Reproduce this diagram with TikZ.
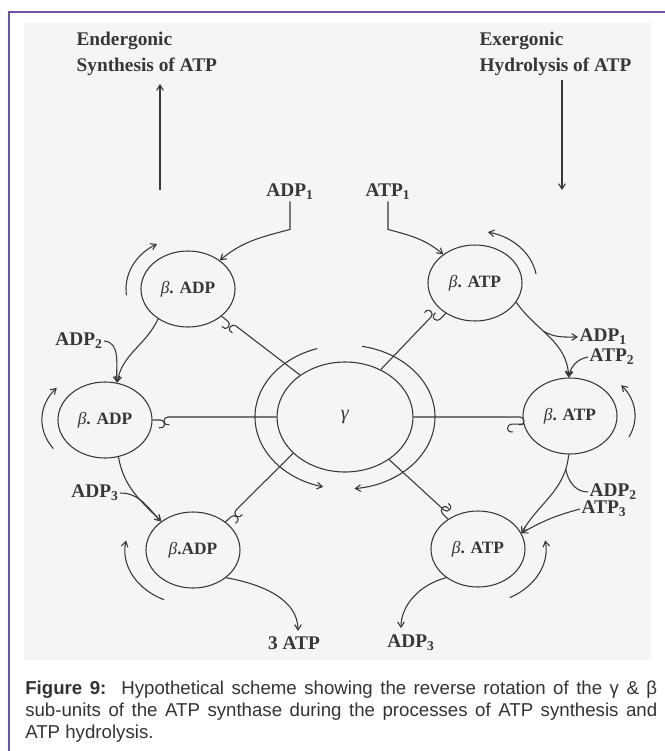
\documentclass[tikz,border=0pt]{standalone}
\usepackage{fontspec}
\setmainfont{Liberation Serif}
\newfontfamily\capfont{Liberation Sans}
\usetikzlibrary{shapes.geometric,arrows.meta}

\definecolor{framepurple}{RGB}{112,84,160}
\definecolor{ink}{RGB}{55,55,55}

\tikzset{
  unit/.style={draw=ink, ellipse, line width=0.8pt, minimum width=70.5pt, minimum height=57pt,
    inner sep=0pt, font=\bfseries\fontsize{13}{15}\selectfont, text=ink},
  lab/.style={font=\bfseries\fontsize{14.5}{15}\selectfont, text=ink, inner sep=1pt},
  link/.style={draw=ink, line width=0.8pt},
  flow/.style={link, -{Straight Barb[length=4pt,width=5pt]}},
}
\newcommand{\bt}{{\mdseries\itshape β}}

\begin{document}
\begin{tikzpicture}[x=0.75pt, y=0.75pt]
\useasboundingbox (0,0) rectangle (665,-751);
% frame and grey panel
\fill[black!4] (24,-23) rectangle (651,-660);
\draw[framepurple, line width=1.5pt] (9,-751) -- (9,-12) -- (665,-12);

% gamma and the six beta units
\node[unit, minimum width=102pt, minimum height=82.5pt, font=\fontsize{15}{16}\selectfont] (gamma) at (345,-417) {\textit{γ}};
\node[unit] (adpA) at (188,-289) {\bt. ADP};
\node[unit] (adpB) at (105,-420) {\bt. ADP};
\node[unit] (adpC) at (193,-550) {\bt.ADP};
\node[unit] (atpA) at (475,-283) {\bt. ATP};
\node[unit] (atpB) at (570,-416) {\bt. ATP};
\node[unit] (atpC) at (478,-549) {\bt. ATP};

% labels
\node[lab, align=left, anchor=north west, font=\bfseries\fontsize{14.5}{19.5}\selectfont] (ender) at (75,-30) {Endergonic\\Synthesis of ATP};
\node[lab, align=left, anchor=north west, font=\bfseries\fontsize{14.5}{19.5}\selectfont] (exer) at (478,-30) {Exergonic\\Hydrolysis of ATP};
\node[lab] (adp1) at (290,-192) {ADP\textsubscript{1}};
\node[lab] (atp1) at (388,-192) {ATP\textsubscript{1}};
\node[lab] (adp2) at (79,-341) {ADP\textsubscript{2}};
\node[lab] (adp3) at (95,-493) {ADP\textsubscript{3}};
\node[lab, anchor=west] (adp1r) at (578,-337) {ADP\textsubscript{1}};
\node[lab, anchor=west] (atp2) at (588,-357) {ATP\textsubscript{2}};
\node[lab, anchor=west] (adp2r) at (588,-492) {ADP\textsubscript{2}};
\node[lab, anchor=west] (atp3) at (580,-509) {ATP\textsubscript{3}};
\node[lab] (atp3x) at (294,-643) {3 ATP};
\node[lab] (adp3x) at (411,-643) {ADP\textsubscript{3}};

% energy arrows
\coordinate (synA) at (160,-190);
\coordinate (synB) at (160,-84);
\coordinate (hydA) at (562,-80);
\coordinate (hydB) at (562,-190);
\draw[flow] (synA) -- (synB);
\draw[flow] (hydA) -- (hydB);

% substrates in and products out
\draw[flow] (adp1.south) -- ++(0,-28) to[out=195, in=40] (adpA.42);
\draw[flow] (atp1.south) -- ++(0,-28) to[out=-15, in=140] (atpA.138);
\draw[flow] (adpA.225) to[out=245, in=80] (adpB.72);
\draw[flow] (adp2.east) to[out=-5, in=95] (adpB.72);
\draw[flow] (adpB.-70) to[out=-80, in=135] (adpC.138);
\draw[flow] (adp3.east) to[out=0, in=135] (adpC.138);
\draw[flow] (atpA.-25) to[out=-55, in=92] node[coordinate, pos=0.4] (relA) {} (atpB.92);
\draw[flow] (relA) to[out=-30, in=180] (adp1r.west);
\draw[flow] (atp2.west) to[out=190, in=80] (atpB.92);
\draw[flow] (atpB.-92) to[out=-95, in=60] node[coordinate, pos=0.15] (relB) {} (atpC.20);
\draw[link] (relB) to[out=-80, in=180] (adp2r.west);
\draw[flow] (atp3.west) to[out=195, in=30] (atpC.20);
\draw[flow, shorten >=3pt] (adpC.-40) to[out=-10, in=90] ([xshift=3pt]atp3x.north);
\draw[flow, shorten >=4pt] (atpC.222) to[out=195, in=90] ([xshift=-7.5pt]adp3x.north);

% rotation of the units
\draw[flow] ([shift={(187:62 and 52)}]adpA.center) arc[start angle=187, end angle=120, x radius=62, y radius=52];
\draw[flow] ([shift={(10:62 and 52)}]atpA.center) arc[start angle=10, end angle=78, x radius=62, y radius=52];
\draw[flow] ([shift={(215:63 and 50)}]adpB.center) arc[start angle=215, end angle=140, x radius=63, y radius=50];
\draw[flow] ([shift={(-25:65 and 50)}]atpB.center) arc[start angle=-25, end angle=38, x radius=65, y radius=50];
\draw[flow] ([shift={(245:68 and 55)}]adpC.center) arc[start angle=245, end angle=170, x radius=68, y radius=55];
\draw[flow] ([shift={(298:68 and 55)}]atpC.center) arc[start angle=298, end angle=369, x radius=68, y radius=55];
\draw[flow] ([shift={(108:90 and 72)}]gamma.center) arc[start angle=108, end angle=256, x radius=90, y radius=72];
\draw[flow] ([shift={(79:90 and 72)}]gamma.center) arc[start angle=79, end angle=-84, x radius=90, y radius=72];

% spokes with hooks
\coordinate (hkA) at (236,-326);
\coordinate (hkB) at (431,-317);
\coordinate (hkC) at (168,-417);
\coordinate (hkD) at (520,-417);
\coordinate (hkE) at (236,-510);
\coordinate (hkF) at (444,-510);
\draw[link] (gamma.137) -- (hkA) arc[start angle=52, delta angle=200, radius=4];
\draw[link] (gamma.53) -- (hkB) arc[start angle=-44, delta angle=200, radius=4];
\draw[link] (gamma.180) -- (hkC) arc[start angle=90, delta angle=200, radius=4];
\draw[link] (gamma.0) -- (hkD) arc[start angle=90, delta angle=-200, radius=4];
\draw[link] (gamma.215) -- (hkE) arc[start angle=135, delta angle=200, radius=4];
\draw[link] (gamma.-44) -- (hkF) arc[start angle=-133, delta angle=200, radius=4];
\draw[link] (adpA.-39) -- ++(-39:8) arc[start angle=51, delta angle=-200, radius=4];
\draw[link] (atpA.226) -- ++(226:8) arc[start angle=316, delta angle=-200, radius=4];
\draw[link] (adpB.0) -- ++(0:8) arc[start angle=90, delta angle=-200, radius=4];
\draw[link] (atpB.190) -- ++(180:12) arc[start angle=90, delta angle=200, radius=4];
\draw[link] (adpC.41) -- ++(41:8) arc[start angle=131, delta angle=-200, radius=4];
\draw[link] (atpC.135) -- ++(135:8) arc[start angle=225, delta angle=-200, radius=4];

% caption
\node[anchor=north west, inner sep=0pt, text width=474pt, align=justify, text=black!80,
  font=\capfont\fontsize{14}{16.5}\selectfont] (cap) at (25,-681)
  {\textbf{Figure 9:}\ \ Hypothetical scheme showing the reverse rotation of the γ \& β\linebreak
   sub-units of the ATP synthase during the processes of ATP synthesis and\linebreak
   ATP hydrolysis.};
\end{tikzpicture}
\end{document}
